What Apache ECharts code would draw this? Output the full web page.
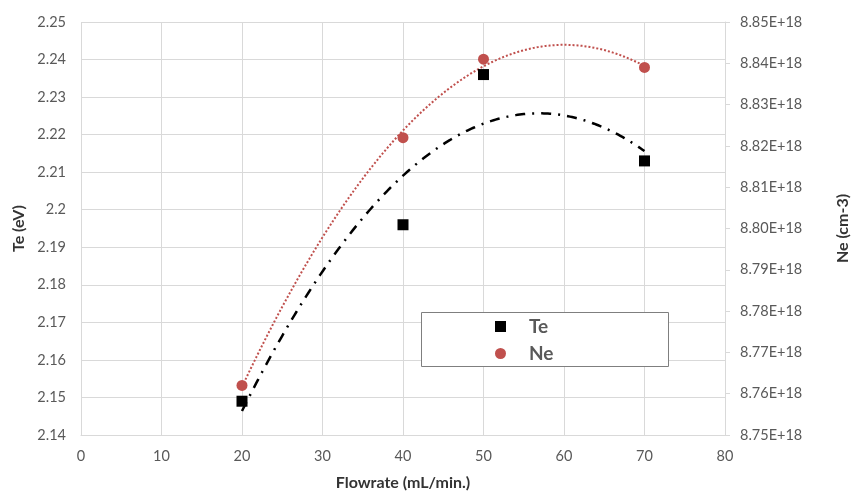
<!DOCTYPE html>
<html>
<head>
<meta charset="utf-8">
<script src="https://cdn.jsdelivr.net/npm/echarts@6/dist/echarts.min.js"></script>
<style>
  html, body { margin: 0; padding: 0; background: #fff; }
  #chart { width: 852px; height: 492px; }
</style>
</head>
<body>
<div id="chart"></div>
<script>
// Flowrate (mL/min.)
const flowrate = [20, 40, 50, 70];
// Electron temperature Te (eV)
const teValues = [2.149, 2.196, 2.236, 2.213];
// Electron density Ne, in units of 1E+18 cm-3
const neValues = [8.762, 8.822, 8.841, 8.839];

// Axis ranges and tick steps
const xRange = [0, 80, 10];
const teRange = [2.14, 2.25, 0.01];
const neRange = [8.75, 8.85, 0.01];

// Second-order polynomial least-squares fit (trendline) of y on x
function quadFit(xs, ys) {
  const n = xs.length;
  let s = [0, 0, 0, 0, 0], t = [0, 0, 0];
  for (let i = 0; i < n; i++) {
    let p = 1;
    for (let k = 0; k <= 4; k++) { s[k] += p; if (k <= 2) t[k] += p * ys[i]; p *= xs[i]; }
  }
  // Solve 3x3 normal equations by Cramer's rule
  const M = [[s[0], s[1], s[2]], [s[1], s[2], s[3]], [s[2], s[3], s[4]]];
  const det = m => m[0][0] * (m[1][1] * m[2][2] - m[1][2] * m[2][1])
                 - m[0][1] * (m[1][0] * m[2][2] - m[1][2] * m[2][0])
                 + m[0][2] * (m[1][0] * m[2][1] - m[1][1] * m[2][0]);
  const D = det(M);
  const coef = [0, 1, 2].map(c => det(M.map((row, r) => row.map((v, j) => (j === c ? t[r] : v)))) / D);
  return x => coef[0] + coef[1] * x + coef[2] * x * x;
}

function trendPoints(xs, ys) {
  const f = quadFit(xs, ys);
  const x0 = Math.min(...xs), x1 = Math.max(...xs);
  const pts = [];
  for (let x = x0; x <= x1 + 1e-9; x += 0.25) pts.push([x, f(x)]);
  return pts;
}

const FONT = 'Lato, "Open Sans", sans-serif';
const GRID_COLOR = '#d9d9d9';
const LABEL_COLOR = '#595959';
const TITLE_COLOR = '#333333';
const NE_COLOR = '#c0504d';

const chart = echarts.init(document.getElementById('chart'), null, { renderer: 'canvas' });

chart.setOption({
  animation: false,
  backgroundColor: '#ffffff',
  grid: { left: 81, right: 127, top: 22, bottom: 57, containLabel: false, outerBoundsMode: 'none' },
  xAxis: {
    type: 'value',
    min: xRange[0], max: xRange[1], interval: xRange[2],
    name: 'Flowrate (mL/min.)',
    nameLocation: 'middle',
    nameGap: 40,
    nameTextStyle: { fontFamily: FONT, fontSize: 16, fontWeight: 'bold', color: TITLE_COLOR },
    axisLine: { show: true, lineStyle: { color: GRID_COLOR, width: 1 } },
    axisTick: { show: false },
    axisLabel: { color: LABEL_COLOR, fontFamily: FONT, fontSize: 14.5, margin: 14 },
    splitLine: { show: true, lineStyle: { color: GRID_COLOR, width: 1 } }
  },
  yAxis: [
    {
      type: 'value',
      position: 'left',
      min: teRange[0], max: teRange[1], interval: teRange[2],
      name: 'Te (eV)',
      nameLocation: 'middle',
      nameRotate: 90,
      nameGap: 53,
      nameTextStyle: { fontFamily: FONT, fontSize: 16, fontWeight: 'bold', color: TITLE_COLOR },
      axisLine: { show: false },
      axisTick: { show: false },
      axisLabel: {
        color: LABEL_COLOR, fontFamily: FONT, fontSize: 14.5, margin: 15,
        formatter: v => String(parseFloat(v.toFixed(2)))
      },
      splitLine: { show: true, lineStyle: { color: GRID_COLOR, width: 1 } }
    },
    {
      type: 'value',
      position: 'right',
      min: neRange[0], max: neRange[1], interval: neRange[2],
      name: 'Ne (cm-3)',
      nameLocation: 'middle',
      nameRotate: 90,
      nameGap: 110,
      nameTextStyle: { fontFamily: FONT, fontSize: 16, fontWeight: 'bold', color: TITLE_COLOR },
      axisLine: { show: true, lineStyle: { color: GRID_COLOR, width: 1 } },
      axisTick: { show: true, inside: false, length: 5, lineStyle: { color: GRID_COLOR, width: 1 } },
      axisLabel: {
        color: LABEL_COLOR, fontFamily: FONT, fontSize: 14.5, margin: 15,
        formatter: v => v.toFixed(2) + 'E+18'
      },
      splitLine: { show: false }
    }
  ],
  legend: {
    data: ['Te', 'Ne'],
    orient: 'vertical',
    left: 495,
    top: 316,
    itemWidth: 11,
    itemHeight: 11,
    itemGap: 6,
    padding: 0,
    textStyle: { fontFamily: FONT, fontSize: 19, fontWeight: 'bold', color: LABEL_COLOR, padding: [0, 0, 0, 18], lineHeight: 21 },
    z: 10
  },
  graphic: [
    {
      type: 'rect',
      z: 9,
      shape: { x: 421.5, y: 312.5, width: 247, height: 54 },
      style: { fill: '#ffffff', stroke: '#7f7f7f', lineWidth: 1 }
    }
  ],
  series: [
    {
      name: 'Te trend',
      type: 'line',
      yAxisIndex: 0,
      data: trendPoints(flowrate, teValues),
      showSymbol: false,
      smooth: false,
      lineStyle: { color: '#000000', width: 2.5, type: [10, 7, 2, 7] },
      z: 3,
      silent: true
    },
    {
      name: 'Ne trend',
      type: 'line',
      yAxisIndex: 1,
      data: trendPoints(flowrate, neValues),
      showSymbol: false,
      smooth: false,
      lineStyle: { color: NE_COLOR, width: 2, type: [2, 2] },
      z: 3,
      silent: true
    },
    {
      name: 'Te',
      type: 'scatter',
      yAxisIndex: 0,
      symbol: 'rect',
      symbolSize: 11,
      itemStyle: { color: '#000000', opacity: 1 },
      data: flowrate.map((x, i) => [x, teValues[i]]),
      z: 5
    },
    {
      name: 'Ne',
      type: 'scatter',
      yAxisIndex: 1,
      symbol: 'circle',
      symbolSize: 11,
      itemStyle: { color: NE_COLOR, opacity: 1 },
      data: flowrate.map((x, i) => [x, neValues[i]]),
      z: 5
    }
  ]
});
</script>
</body>
</html>
